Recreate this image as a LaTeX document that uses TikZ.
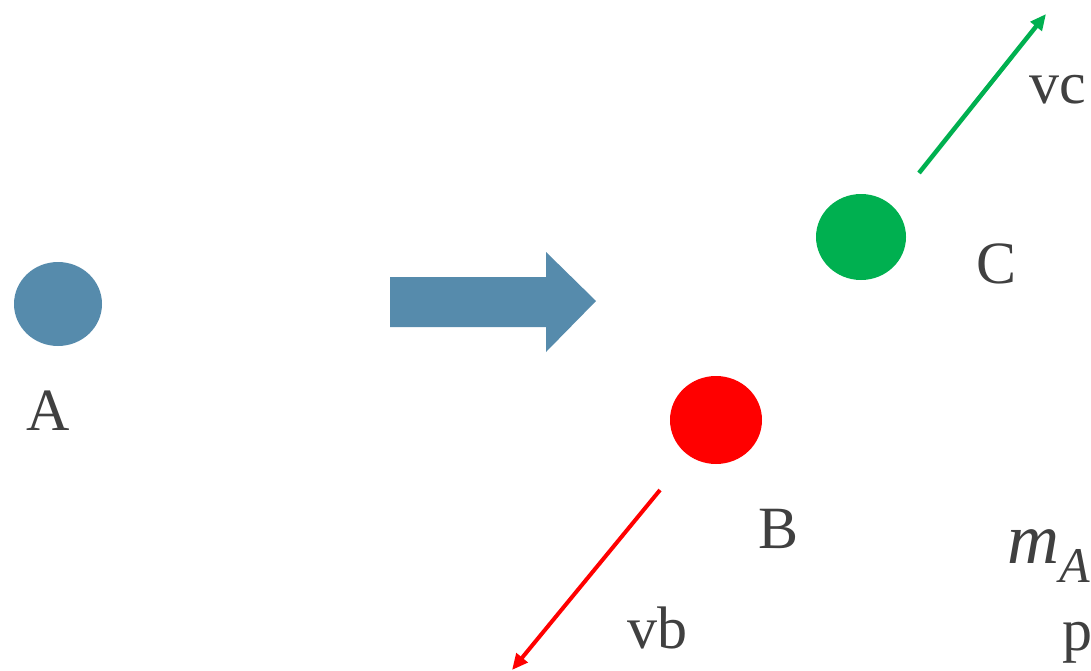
\documentclass[tikz,border=0pt]{standalone}
\usepackage{fontspec}
\setmainfont{Liberation Serif}
\usetikzlibrary{arrows.meta,shapes.geometric}
\definecolor{txt}{RGB}{64,64,64}
\definecolor{bluish}{RGB}{86,139,172}
\definecolor{grn}{RGB}{0,176,80}
\definecolor{rd}{RGB}{255,0,0}
\tikzset{
  ball/.style={ellipse, inner sep=0pt, draw=none},
  lbl/.style={text=txt, font=\fontsize{60}{72}\selectfont, anchor=base, inner sep=0pt},
  vec/.style={line width=4.5pt, -{Triangle[length=16pt,width=14pt]}},
}
\begin{document}
\begin{tikzpicture}[x=1pt,y=-1pt]
\useasboundingbox (0,0) rectangle (1091,671);
\clip (0,0) rectangle (1091,671);
% A
\node[ball, fill=bluish, minimum width=88pt, minimum height=84pt] (a) at (58,304) {};
\node[lbl] (la) at (48,430) {A};
% big arrow
\fill[bluish] (390,277) -- (546,277) -- (546,252) -- (596,301) -- (546,352) -- (546,327) -- (390,327) -- cycle;
% C
\node[ball, fill=grn, minimum width=90pt, minimum height=86pt] (c) at (861,237) {};
\node[lbl] (lc) at (996,283) {C};
\coordinate (c1) at (919,173);
\coordinate (c2) at (1046,14);
\draw[vec, grn] (c1) -- (c2);
\node[lbl, anchor=base west] (lvc) at (1029,104) {vc};
% B
\node[ball, fill=rd, minimum width=92pt, minimum height=88pt] (b) at (716,420) {};
\node[lbl] (lb) at (778,548) {B};
\coordinate (b1) at (660,490);
\coordinate (b2) at (512,670);
\draw[vec, rd, line width=4pt] (b1) -- (b2);
\node[lbl, anchor=base west] (lvb) at (627,648) {vb};
% right-edge texts
\node[lbl, anchor=base west, font=\fontsize{72}{80}\selectfont\itshape] (lm) at (1007,563) {m\raisebox{-19pt}{\fontsize{50}{56}\selectfont A}};
\node[lbl, anchor=base west] (lp) at (1062,650) {p};
\end{tikzpicture}
\end{document}
